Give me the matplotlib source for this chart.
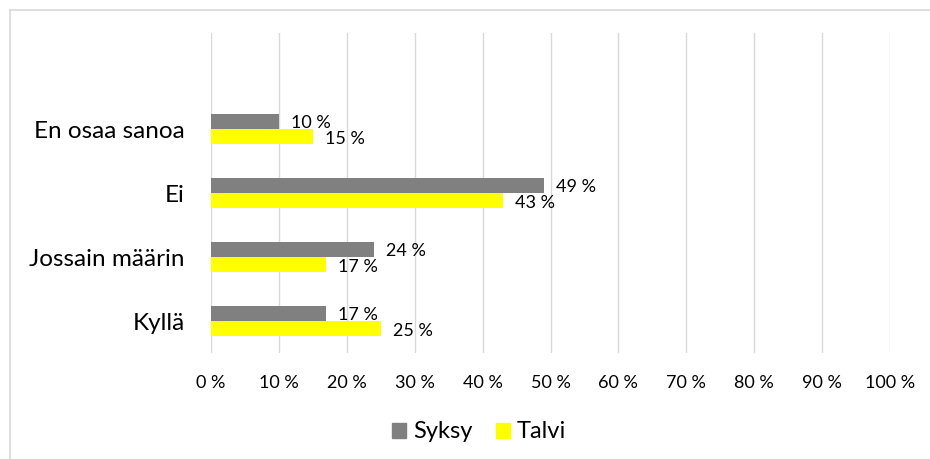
import matplotlib.pyplot as plt
from matplotlib.lines import Line2D
from matplotlib.patches import Patch
import numpy as np

plt.rcParams['font.family'] = ['Lato', 'DejaVu Sans']

# data (bottom to top, as drawn)
categories = ['Kyllä', 'Jossain määrin', 'Ei', 'En osaa sanoa']
syksy = [17, 24, 49, 10]
talvi = [25, 17, 43, 15]
series_names = ['Syksy', 'Talvi']
x_ticks = [0, 10, 20, 30, 40, 50, 60, 70, 80, 90, 100]

gray = '#808080'
yellow = '#FFFF00'
grid_col = '#D9D9D9'

fig = plt.figure(figsize=(9.3, 4.59), dpi=100)
ax = fig.add_axes([211 / 930, 1 - 353 / 459, 679 / 930, 320 / 459])

y = np.arange(len(categories))
h = 15 / 64
ax.barh(y + h / 2, syksy, height=h, color=gray, zorder=3)
ax.barh(y - h / 2, talvi, height=h, color=yellow, zorder=3)

# data labels right of the bar ends
for yy, val in zip(y + h / 2, syksy):
    ax.annotate(f'{val} %', (val, yy), xytext=(12, -2), textcoords='offset pixels',
                ha='left', va='center', fontsize=13, color='#000000', zorder=4)
for yy, val in zip(y - h / 2, talvi):
    ax.annotate(f'{val} %', (val, yy), xytext=(12, -2), textcoords='offset pixels',
                ha='left', va='center', fontsize=13, color='#000000', zorder=4)

ax.set_xlim(0, 100)
ax.set_ylim(-0.5, 4.5)
ax.set_xticks(x_ticks)
ax.set_xticklabels([f'{t} %' for t in x_ticks], fontsize=13)
ax.set_yticks(y)
ax.set_yticklabels(categories, fontsize=17.5)
ax.tick_params(axis='x', length=0, pad=16)
ax.tick_params(axis='y', length=0, pad=19)
for t in x_ticks:
    ax.axvline(t, color=grid_col, lw=1.0, zorder=1)
for s in ax.spines.values():
    s.set_visible(False)

handles = [Patch(color=gray), Patch(color=yellow)]
fig.legend(handles, series_names, loc='center', bbox_to_anchor=(479 / 930, 1 - 432 / 459),
           ncol=2, frameon=False, fontsize=17, handlelength=0.6, handleheight=0.6,
           handletextpad=0.3, columnspacing=1.0)

# chart border (left and top visible)
fig.add_artist(Line2D([10 / 930, 10 / 930], [0, 1 - 10 / 459], color=grid_col, lw=1.2,
                      transform=fig.transFigure))
fig.add_artist(Line2D([10 / 930, 1], [1 - 10 / 459, 1 - 10 / 459], color=grid_col, lw=1.2,
                      transform=fig.transFigure))

fig.savefig('out.png', dpi=100)
